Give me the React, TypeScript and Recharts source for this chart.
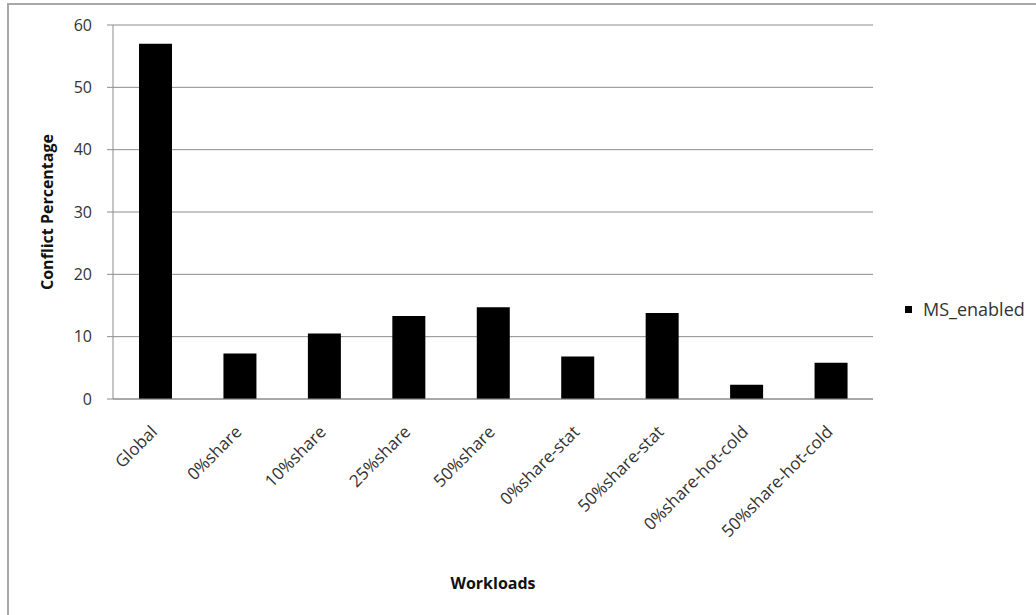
import { BarChart, Bar, XAxis, YAxis, CartesianGrid, Legend } from "recharts";

const workloads = [
  "Global",
  "0%share",
  "10%share",
  "25%share",
  "50%share",
  "0%share-stat",
  "50%share-stat",
  "0%share-hot-cold",
  "50%share-hot-cold",
];
const msEnabled = [57, 7.3, 10.5, 13.3, 14.7, 6.8, 13.8, 2.3, 5.8];
const yTicks = [0, 10, 20, 30, 40, 50, 60];

const data = workloads.map((name, i) => ({ name, MS_enabled: msEnabled[i] }));

const FONT = "'Open Sans', 'DejaVu Sans', sans-serif";
const GRAY = "#8c8c8c";
const TEXT = "#333333";

// slanted category labels, right end sits just under the bar centre
function SlantTick({ x, y, payload }: any) {
  const ax = x + 3;
  const ay = y + 34;
  return (
    <text
      x={ax}
      y={ay}
      transform={`rotate(-45, ${ax}, ${ay})`}
      textAnchor="end"
      fontSize={17}
      fill={TEXT}
      fontFamily={FONT}
    >
      {payload.value}
    </text>
  );
}

function YTitle({ viewBox }: any) {
  const x = viewBox.x + 53;
  const y = viewBox.y + viewBox.height / 2;
  return (
    <text
      x={x}
      y={y}
      transform={`rotate(-90, ${x}, ${y})`}
      textAnchor="middle"
      fontSize={16}
      fontWeight="bold"
      fill="#111"
      fontFamily={FONT}
    >
      Conflict Percentage
    </text>
  );
}

function XTitle({ viewBox }: any) {
  return (
    <text
      x={viewBox.x + viewBox.width / 2}
      y={viewBox.y + 190}
      textAnchor="middle"
      fontSize={16}
      fontWeight="bold"
      fill="#111"
      fontFamily={FONT}
    >
      Workloads
    </text>
  );
}

function LegendBox() {
  return (
    <div style={{ display: "flex", alignItems: "center", fontFamily: FONT, fontSize: 18, color: TEXT, whiteSpace: "nowrap" }}>
      <span style={{ display: "inline-block", width: 7, height: 7, background: "#000", marginRight: 11 }} />
      MS_enabled
    </div>
  );
}

export default function App() {
  return (
    <div style={{ position: "absolute", left: 0, top: 0, width: 1036, height: 615, overflow: "hidden", background: "#fff" }}>
      <div
        style={{
          position: "absolute",
          left: 7,
          top: 3,
          width: 1100,
          height: 700,
          border: "2px solid #a8a8a8",
          boxSizing: "border-box",
        }}
      />
      <BarChart
        width={1036}
        height={615}
        data={data}
        margin={{ top: 25, right: 163, bottom: 0, left: 0 }}
        style={{ position: "absolute", left: 0, top: 0 }}
      >
        <CartesianGrid vertical={false} stroke={GRAY} />
        <XAxis
          dataKey="name"
          interval={0}
          height={216}
          tickLine={false}
          tickSize={0}
          tickMargin={0}
          stroke={GRAY}
          tick={<SlantTick />}
          label={<XTitle />}
        />
        <YAxis
          width={113}
          domain={[0, 60]}
          ticks={yTicks}
          interval={0}
          tickSize={6}
          tickMargin={15}
          stroke={GRAY}
          tick={{ fontSize: 16, fill: TEXT, fontFamily: FONT }}
          label={<YTitle />}
        />
        <Legend
          layout="vertical"
          align="center"
          verticalAlign="middle"
          content={<LegendBox />}
          wrapperStyle={{ left: 905, top: 297, width: 140 }}
        />
        <Bar dataKey="MS_enabled" fill="#000" barSize={33} isAnimationActive={false} />
      </BarChart>
    </div>
  );
}
